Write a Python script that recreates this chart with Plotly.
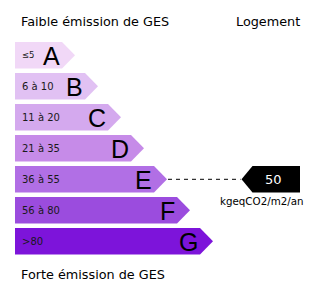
import plotly.graph_objects as go

# ---- data ----
classes = ["A", "B", "C", "D", "E", "F", "G"]
range_labels = ["≤5", "6 à 10", "11 à 20", "21 à 35", "36 à 55", "56 à 80", ">80"]
upper_bounds = [5, 10, 20, 35, 55, 80]
value = 50
unit = "kgeqCO2/m2/an"
title_top = "Faible émission de GES"
title_right = "Logement"
title_bottom = "Forte émission de GES"
colors = ["#F1D8F7", "#E1C1F3", "#D4A9EE", "#C68BE8", "#B16FE5", "#9B4CDE", "#7D14DA"]

# ---- layout geometry (pixel-like axis units) ----
W, H = 320, 293
x0 = 15
row_top0 = 42
pitch = 31
bar_h = 26.6
end0 = 62
step = 23
arrow = 13

fig = go.Figure()

val_idx = sum(1 for b in upper_bounds if value > b)

for i, (c, rl, col) in enumerate(zip(classes, range_labels, colors)):
    top = row_top0 + pitch * i
    bot = top + bar_h
    mid = (top + bot) / 2
    xe = end0 + step * i
    tip = xe + arrow
    fig.add_trace(go.Scatter(
        x=[x0, xe, tip, xe, x0, x0], y=[top, top, mid, bot, bot, top],
        fill="toself", fillcolor=col, mode="lines", line=dict(width=0),
        hoverinfo="skip", showlegend=False))
    fig.add_annotation(x=xe, y=mid + 1, text=c, showarrow=False, xanchor="right",
                       yanchor="middle", font=dict(family="Liberation Sans", size=25, color="#000"))
    fig.add_annotation(x=x0 + 5, y=mid, text=rl, showarrow=False, xanchor="left",
                       yanchor="middle",
                       font=dict(family="DejaVu Sans", size=8.5 if i == 0 else 10, color="#1a1a1a"))

# indicator
top = row_top0 + pitch * val_idx
bot = top + bar_h
mid = (top + bot) / 2
tip_e = end0 + step * val_idx + arrow
ind_tip = 241.5
ind_rect = 252.5
ind_end = 300
fig.add_trace(go.Scatter(x=[tip_e + 1, ind_tip - 1], y=[mid, mid], mode="lines",
                         line=dict(color="#000", width=1, dash="4px,4px"),
                         hoverinfo="skip", showlegend=False))
fig.add_trace(go.Scatter(
    x=[ind_tip, ind_rect, ind_end, ind_end, ind_rect, ind_tip],
    y=[mid, top, top, bot, bot, mid],
    fill="toself", fillcolor="#000", mode="lines", line=dict(width=0),
    hoverinfo="skip", showlegend=False))
fig.add_annotation(x=(ind_rect + ind_end) / 2 - 3, y=mid, text=str(value), showarrow=False,
                   xanchor="center", yanchor="middle",
                   font=dict(family="DejaVu Sans", size=13, color="#fff"))
fig.add_annotation(x=262, y=bot + 8, text=unit, showarrow=False, xanchor="center",
                   yanchor="middle", font=dict(family="DejaVu Sans", size=10.3, color="#000"))

# titles
fig.add_annotation(x=19, y=21, text=title_top, showarrow=False, xanchor="left", yanchor="middle",
                   font=dict(family="DejaVu Sans", size=12.8, color="#000"))
fig.add_annotation(x=302, y=21, text=title_right, showarrow=False, xanchor="right", yanchor="middle",
                   font=dict(family="DejaVu Sans", size=12.8, color="#000"))
fig.add_annotation(x=19, y=274, text=title_bottom, showarrow=False, xanchor="left", yanchor="middle",
                   font=dict(family="DejaVu Sans", size=12.8, color="#000"))

fig.update_layout(
    width=W, height=H, margin=dict(l=0, r=0, t=0, b=0),
    paper_bgcolor="#fff", plot_bgcolor="#fff",
    xaxis=dict(range=[0, W], visible=False, fixedrange=True),
    yaxis=dict(range=[H, 0], visible=False, fixedrange=True),
)
fig.write_html("out.html", config={"displayModeBar": False})
